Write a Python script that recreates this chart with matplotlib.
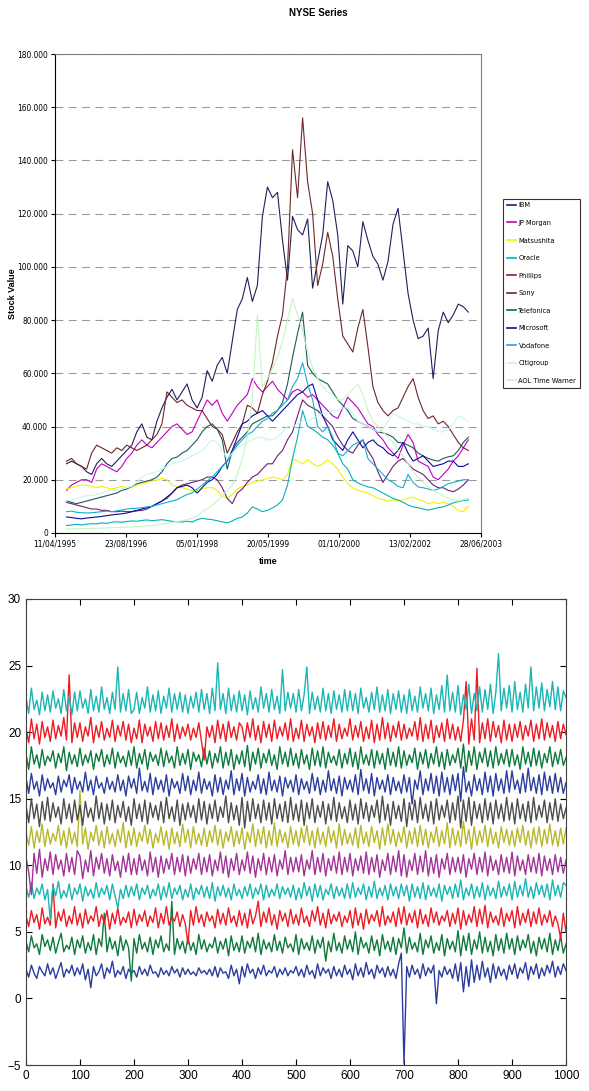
import matplotlib
matplotlib.use('Agg')
import matplotlib.pyplot as plt
import pandas as pd
import numpy as np
from matplotlib.ticker import FuncFormatter
from matplotlib.lines import Line2D
from matplotlib import font_manager
from matplotlib.font_manager import FontProperties

plt.rcParams['font.family'] = ['Liberation Sans', 'DejaVu Sans']

_cond = [f for f in font_manager.fontManager.ttflist
         if ('Narrow' in f.name or f.stretch in ('condensed', 'semi-condensed'))
         and f.style == 'normal' and f.weight in (400, 'normal', 'regular')]
if _cond:
    def nfont(size):
        return FontProperties(fname=_cond[0].fname, size=size)
    LEG_SIZE = 5.3
else:
    def nfont(size):
        return FontProperties(family='Liberation Sans', size=size)
    LEG_SIZE = 4.8

# ---------------- top chart data (NYSE Series) ----------------
dates = pd.date_range('1995-07-01', '2003-03-31', periods=81)
xtick_labels = ['11/04/1995', '23/08/1996', '05/01/1998', '20/05/1999',
                '01/10/2000', '13/02/2002', '28/06/2003']

ibm = [26, 27, 26, 25, 23, 22, 26, 28, 26, 25, 27, 29, 31, 33, 38, 41, 36, 35, 42, 47,
       51, 54, 50, 53, 56, 50, 47, 51, 61, 57, 63, 66, 60, 72, 84, 88, 96, 87, 93, 119,
       130, 126, 128, 110, 95, 119, 114, 112, 118, 92, 102, 112, 132, 125, 112, 86, 108, 106, 100, 117,
       110, 104, 101, 95, 102, 116, 122, 106, 90, 80, 73, 74, 77, 58, 76, 83, 79, 82, 86, 85, 83]
jpmorgan = [16, 18, 19, 20, 20, 19, 24, 26, 25, 24, 23, 25, 28, 30, 33, 35, 33, 32, 34, 36,
            38, 40, 41, 39, 37, 38, 42, 46, 50, 48, 50, 45, 42, 45, 48, 50, 52, 58, 55, 53,
            55, 57, 54, 52, 50, 53, 54, 53, 51, 52, 50, 48, 46, 44, 43, 47, 51, 49, 47, 44,
            41, 40, 37, 35, 32, 30, 28, 33, 37, 34, 27, 26, 25, 21, 20, 22, 24, 27, 29, 32, 35]
matsushita = [16.5, 17, 17.5, 18, 18, 17.5, 17, 17.5, 17, 16.5, 17, 17.5, 17, 17, 18, 18.5, 19, 19.5, 20, 20.5,
              20, 18, 17.5, 17, 16.5, 16, 16, 16.5, 17, 17, 16, 14, 13, 14.5, 16.5, 17.5, 18, 19, 19.5, 20,
              20.5, 21, 20.5, 20, 22, 28, 27, 26, 27.5, 26, 25, 26, 27.5, 26, 24, 21, 18.5, 17, 16, 15.5,
              15, 14, 13, 12.5, 12, 12.5, 12, 12.5, 13, 13.5, 12.5, 12, 11, 11.5, 11, 11.5, 11, 10, 8.5, 8, 10]
oracle = [2.8, 3, 3.2, 3, 3.3, 3.5, 3.4, 3.8, 3.6, 4, 4.2, 4, 4.3, 4.5, 4.4, 4.7, 4.9, 4.6, 4.8, 5,
          4.7, 4.4, 4.2, 4.1, 4.4, 4.1, 5, 5.5, 5.2, 5, 4.6, 4.2, 3.8, 4.5, 5.5, 6, 7.5, 9.8, 9, 8,
          8.5, 9.4, 10.5, 12.4, 18, 28, 36, 46, 40, 39, 37.6, 36, 35, 33, 30, 26, 24, 20, 18.8, 18,
          17.3, 17, 16, 15, 14, 13, 12.4, 11.5, 10.5, 9.8, 9.5, 9, 8.6, 9, 9.5, 9.8, 10.5, 11.3, 11.8, 12.2, 12.4]
phillips = [11.5, 11, 10.5, 10, 9.5, 9, 9, 8.5, 8.5, 8, 8, 8.2, 8, 8, 8.3, 8.5, 9, 10, 11, 12,
            13, 15, 17, 18, 18.5, 19, 19.5, 20, 21, 21, 20, 17, 13, 11, 15, 16.5, 19, 21, 22, 24,
            26, 26, 29, 31, 35, 38, 44, 50, 48, 47, 46, 44, 42, 40, 36, 33, 31, 30, 33, 35,
            31, 28, 23, 19, 22, 25, 27, 28, 26, 24, 23, 22, 20, 18, 17, 17, 16, 15.5, 16.5, 18, 20]
sony = [27, 28, 26, 25, 24, 30, 33, 32, 31, 30, 32, 31, 33, 32, 31, 32, 33, 35, 37, 41,
        53, 51, 49, 50, 48, 47, 46, 46, 43, 40, 39, 37, 30, 34, 38, 41, 48, 47, 45, 52,
        57, 64, 74, 82, 100, 144, 126, 156, 132, 120, 93, 101, 113, 104, 88, 74, 71, 68, 77, 84,
        70, 55, 49, 46, 44, 46, 47, 51, 55, 58, 51, 46, 43, 44, 41, 42, 40, 37, 34, 32, 31]
telefonica = [12, 11.5, 11, 11.5, 12, 12.5, 13, 13.5, 14, 14.5, 15, 16, 16.5, 17.5, 18.5, 19, 19.5, 20, 21, 23,
              26, 28, 28.5, 30, 31, 33, 35, 38, 40, 41, 39, 35, 24, 31, 34, 36, 38, 41, 42, 43,
              44, 44, 46, 49, 56, 66, 75, 83, 63, 60, 58, 57, 56, 53, 50, 48, 46, 43, 42, 41,
              40, 39, 38, 37.6, 37, 36, 34, 33.8, 33, 32, 30, 29, 28, 27.4, 27, 28, 28.6, 29, 31, 34, 36]
microsoft = [6, 5.8, 5.5, 5.3, 5.6, 5.8, 6, 6.2, 6.5, 6.8, 7, 7.2, 7.5, 8, 8.5, 9, 9.5, 10, 11, 12,
             13.5, 15, 17, 17.5, 18, 17, 15, 17, 19, 20, 22, 25, 27, 31, 36, 41, 42, 44, 45, 46,
             44, 42, 44, 46, 48, 50, 52, 53, 55, 56, 50, 44, 40, 35, 33, 31, 35, 38, 35, 32,
             34, 35, 33, 32, 30, 29, 31, 34, 30, 27, 28, 29, 27, 25, 25.5, 26, 27, 27, 25, 25, 26]
vodafone = [8, 8.2, 7.8, 7.6, 7.5, 7.6, 7.8, 8, 8.2, 8, 8.3, 8.6, 9, 9.2, 9.3, 9.5, 9.8, 10, 10.5, 11,
            11.5, 12, 12.5, 13.5, 14.5, 15, 16.5, 18, 19.5, 21, 23, 25, 27, 30, 33, 35, 37, 38, 40, 42,
            43, 45, 46, 48, 50, 55, 58, 64, 56, 50, 40, 38, 40, 36, 30, 29, 31, 33, 34, 35,
            28, 26, 24, 22, 20, 19, 17.5, 17, 22, 19, 17.3, 17, 16.5, 16, 16.5, 17.5, 18.5, 19, 19.5, 20, 20]
citigroup = [12, 12.5, 13, 13.5, 14, 14, 14.5, 15, 15.5, 16, 16, 16.5, 17, 17.5, 19, 21, 22, 22.5, 23, 24,
             25, 26, 26.5, 27, 28, 29, 30, 31, 33, 35, 34, 31, 28, 30, 32, 33, 34, 35, 36, 36,
             35, 35, 36, 38, 40, 40, 41, 42, 42, 43, 44, 45, 45, 46, 46, 47, 47, 45, 42, 41,
             40, 39, 38, 39, 42, 45, 44, 43, 42, 41, 41, 40, 40, 39, 38, 38, 39, 41, 44, 43, 42]
aol = [1.5, 1.5, 1.6, 1.6, 1.7, 1.7, 1.8, 1.8, 1.9, 2, 2, 2.1, 2.2, 2.3, 2.4, 2.5, 2.6, 2.8, 3, 3.3,
       3.6, 4, 4.3, 4.6, 5, 5.5, 6.5, 8, 9, 10.5, 12, 14, 16, 18, 22, 28, 36, 50, 82, 55,
       58, 62, 66, 72, 80, 88, 82, 76, 68, 62, 58, 55, 53, 52, 50, 50, 52, 54, 56, 52,
       46, 42, 40, 38, 36, 34, 31, 29, 26, 23, 21, 19, 17.5, 16, 15, 14, 13, 12.5, 12, 12.5, 13]

series_names = ['IBM', 'JP Morgan', 'Matsushita', 'Oracle', 'Phillips', 'Sony',
                'Telefonica', 'Microsoft', 'Vodafone', 'Citigroup', 'AOL Time Warner']
series_vals = [ibm, jpmorgan, matsushita, oracle, phillips, sony,
               telefonica, microsoft, vodafone, citigroup, aol]
series_colors = ['#20205a', '#c000c0', '#f2f200', '#00b4b4', '#702070', '#6e2626',
                 '#1a5c5c', '#0a0aa0', '#10b0d0', '#c4f6f6', '#c6f4c6']

# ---------------- bottom chart data ----------------
t = np.arange(0, 1001, 5)
b2 = [2.2, 1.6, 2.5, 1.9, 1.5, 2.4, 2.0, 1.7, 2.6, 1.8, 2.3, 1.5, 2.1, 2.7, 1.6, 2.2, 1.9, 2.5, 1.7, 2.3,
      1.8, 2.6, 1.4, 2.2, 0.8, 2.4, 1.7, 2.0, 2.6, 1.5, 2.3, 1.9, 2.8, 1.6, 2.1, 1.8, 2.4, 1.5, 2.2, 1.9,
      2.1, 1.6, 2.4, 1.8, 2.2, 1.7, 2.5, 1.9, 2.0, 1.6, 2.3, 1.8, 2.1, 1.7, 2.4, 1.9, 2.2, 1.6, 2.3, 1.8,
      2.2, 1.8, 2.0, 1.7, 2.3, 1.9, 2.1, 1.8, 2.2, 1.7, 2.4, 1.6, 2.3, 1.9, 2.0, 1.5, 2.5, 1.7, 2.2, 1.1,
      2.4, 1.6, 2.6, 1.9, 2.2, 1.5, 2.3, 1.8, 2.5, 1.7, 2.1, 1.9, 2.4, 1.6, 2.2, 1.8, 2.3, 1.7, 2.1, 1.9,
      2.4, 1.7, 2.2, 1.6, 2.5, 1.8, 2.1, 1.5, 2.6, 1.7, 2.3, 1.9, 2.2, 1.5, 2.4, 1.7, 2.2, 1.6, 2.5, 1.8,
      2.2, 1.4, 2.6, 1.7, 2.3, 1.6, 2.7, 1.8, 2.2, 1.5, 2.5, 1.9, 2.3, 1.6, 2.4, 1.7, 2.2, 1.5, 2.6, 3.4,
      -4.9, 2.4, 1.6, 2.5, 1.8, 2.2, 1.5, 2.6, 1.7, 2.3, 1.9, 2.5, -0.4, 2.1, 1.6, 2.4, 1.8, 2.2, 1.5, 2.6,
      1.3, 2.7, 0.5, 2.4, 0.9, 2.9, 1.2, 2.5, 1.4, 2.8, 1.6, 2.3, 1.2, 2.6, 1.5, 2.4, 1.7, 2.2, 1.4, 2.5,
      1.8, 2.6, 1.5, 2.3, 1.9, 2.7, 1.4, 2.4, 1.8, 2.6, 1.5, 2.3, 1.7, 2.5, 1.9, 2.8, 1.6, 2.4, 1.8, 2.6,
      2.1]
g4 = [4.3, 3.5, 4.7, 3.8, 4.1, 3.3, 4.8, 3.9, 4.4, 3.6, 4.6, 3.4, 4.2, 4.9, 3.5, 4.0, 3.7, 4.6, 3.3, 4.4,
      3.8, 4.7, 3.4, 4.2, 3.6, 4.8, 3.3, 4.5, 3.9, 6.4, 3.5, 4.6, 3.7, 4.3, 3.2, 4.7, 3.6, 4.4, 3.8, 1.3,
      4.5, 3.4, 4.8, 3.7, 4.2, 3.5, 4.6, 3.3, 4.4, 3.8, 4.7, 3.5, 4.1, 3.6, 7.3, 3.3, 4.5, 3.7, 4.3, 3.4,
      4.6, 3.6, 4.2, 3.3, 4.8, 3.7, 4.4, 3.5, 4.1, 3.8, 4.6, 3.4, 4.3, 3.7, 4.5, 3.2, 4.7, 3.6, 4.2, 3.5,
      4.7, 3.4, 4.3, 3.8, 4.6, 3.5, 4.9, 3.3, 4.4, 3.7, 4.2, 3.5, 4.8, 3.6, 4.3, 3.4, 4.6, 3.8, 4.1, 3.5,
      4.8, 3.3, 4.5, 3.7, 4.2, 3.6, 4.7, 3.4, 4.4, 3.8, 4.6, 2.8, 4.3, 3.5, 4.9, 3.6, 4.2, 3.4, 4.7, 3.7,
      4.4, 3.5, 5.0, 3.3, 4.6, 3.8, 4.2, 3.4, 4.7, 3.6, 4.4, 3.2, 4.8, 3.7, 4.3, 3.5, 4.6, 3.3, 4.5, 3.8,
      5.3, 3.4, 4.6, 3.7, 4.2, 3.5, 4.9, 3.3, 4.4, 3.8, 4.7, 3.4, 4.2, 3.6, 4.8, 3.2, 4.5, 3.7, 4.3, 3.5,
      5.1, 3.2, 4.7, 3.6, 4.9, 3.3, 4.4, 3.7, 5.0, 3.4, 4.6, 3.5, 4.3, 3.2, 4.8, 3.6, 4.5, 3.4, 4.9, 3.7,
      4.5, 3.3, 4.7, 3.6, 4.4, 3.8, 4.8, 3.4, 4.3, 3.2, 4.6, 3.7, 4.5, 3.5, 4.9, 3.3, 4.4, 3.6, 4.7, 3.4,
      4.1]
r6 = [6.2, 5.4, 6.6, 5.7, 6.3, 5.2, 6.8, 5.6, 6.1, 5.5, 8.6, 5.3, 6.5, 5.8, 6.7, 5.4, 6.2, 5.6, 6.9, 5.5,
      6.4, 5.3, 6.7, 5.6, 6.2, 5.8, 6.9, 5.4, 6.3, 5.7, 6.6, 5.2, 6.4, 5.6, 6.8, 5.5, 6.1, 5.7, 6.5, 5.3,
      6.7, 5.5, 6.3, 5.8, 6.6, 5.4, 6.2, 5.7, 6.8, 5.3, 6.4, 5.6, 6.9, 5.5, 6.1, 5.8, 6.5, 5.4, 6.3, 5.6,
      4.1, 6.6, 5.5, 6.9, 5.7, 6.3, 5.4, 6.5, 5.8, 6.2, 5.3, 6.7, 5.6, 6.4, 5.5, 6.8, 5.7, 6.2, 5.4, 6.6,
      5.5, 6.4, 5.3, 6.7, 5.6, 6.2, 7.3, 5.4, 6.5, 5.7, 6.8, 5.5, 6.3, 5.2, 6.6, 5.8, 6.4, 5.4, 6.7, 5.6,
      6.3, 5.5, 6.8, 5.7, 6.2, 5.4, 6.6, 5.8, 6.9, 5.5, 6.4, 5.3, 6.7, 5.6, 6.3, 5.8, 6.5, 5.4, 6.2, 5.7,
      6.6, 5.3, 6.8, 5.5, 6.4, 5.2, 6.7, 5.6, 6.3, 5.8, 6.6, 5.4, 6.9, 5.5, 6.2, 5.7, 6.5, 5.4, 6.8, 5.6,
      6.9, 5.5, 6.4, 5.7, 6.6, 5.3, 6.7, 5.6, 6.3, 5.4, 6.8, 5.7, 6.5, 5.5, 6.2, 5.8, 6.6, 5.4, 6.4, 5.6,
      6.8, 5.2, 6.6, 5.5, 6.3, 5.7, 6.9, 5.4, 6.7, 5.6, 7.0, 5.3, 6.5, 5.7, 6.2, 5.5, 6.8, 5.4, 6.4, 5.8,
      6.6, 5.3, 6.9, 5.5, 6.4, 5.7, 6.7, 5.4, 6.5, 5.6, 6.8, 5.5, 6.3, 5.7, 6.6, 5.4, 6.2, 5.6, 4.5, 6.4,
      5.0]
c8 = [8.4, 7.6, 8.7, 7.5, 8.3, 7.8, 8.6, 7.4, 8.2, 5.9, 8.5, 7.7, 8.8, 7.5, 8.1, 7.6, 8.6, 7.4, 8.3, 7.8,
      8.6, 7.3, 8.4, 7.7, 8.2, 7.5, 8.7, 7.6, 8.3, 7.8, 8.5, 7.4, 8.6, 7.7, 6.8, 8.2, 7.5, 8.5, 7.6, 8.4,
      7.7, 8.6, 7.4, 8.3, 7.8, 8.5, 7.5, 8.2, 7.7, 8.6, 7.4, 8.4, 7.6, 8.7, 7.5, 8.3, 7.8, 8.5, 7.4, 8.2,
      7.6, 8.6, 7.4, 8.3, 7.8, 8.5, 7.6, 8.4, 7.5, 8.7, 7.3, 8.4, 7.7, 8.5, 7.6, 8.3, 7.4, 8.6, 7.7, 8.2,
      7.5, 8.4, 7.7, 8.6, 7.5, 8.3, 7.8, 8.6, 7.4, 8.5, 7.6, 8.2, 7.7, 8.6, 7.5, 8.4, 7.8, 8.3, 7.6, 8.5,
      7.4, 8.3, 7.5, 8.7, 7.7, 8.4, 7.3, 8.6, 7.6, 8.5, 7.4, 8.2, 7.8, 8.6, 7.5, 8.4, 7.7, 8.3, 7.5, 8.6,
      7.5, 8.7, 7.6, 8.3, 7.8, 8.6, 7.4, 8.4, 7.6, 8.8, 7.5, 8.3, 7.7, 8.5, 7.4, 8.6, 7.7, 8.4, 7.5, 8.6,
      7.7, 8.5, 7.3, 8.6, 7.6, 8.4, 7.5, 8.7, 7.4, 8.5, 7.7, 8.3, 7.6, 8.6, 7.3, 8.5, 7.8, 8.4, 7.5, 8.6,
      7.6, 8.9, 7.4, 8.3, 7.7, 8.6, 7.5, 8.4, 7.6, 8.7, 7.4, 8.5, 7.7, 8.3, 7.5, 8.8, 7.6, 8.4, 7.7, 8.6,
      7.4, 8.8, 7.6, 8.5, 7.7, 9.0, 7.6, 8.4, 7.5, 8.7, 7.8, 8.5, 7.6, 8.6, 7.4, 8.9, 7.7, 8.5, 7.6, 8.7,
      8.5]
m10 = [10.6, 9.5, 7.8, 10.9, 9.4, 11.2, 9.1, 10.5, 9.6, 11.0, 9.3, 10.8, 9.7, 10.4, 9.2, 10.9, 9.5, 10.6, 9.3, 11.1,
       10.7, 9.0, 10.4, 9.5, 11.1, 9.2, 10.6, 9.7, 10.9, 9.4, 10.5, 9.2, 10.8, 9.6, 10.3, 9.1, 10.7, 9.5, 10.9, 9.3,
       10.5, 9.3, 10.8, 9.6, 10.4, 9.2, 11.0, 9.5, 10.6, 9.1, 10.7, 9.4, 10.5, 9.7, 10.9, 9.3, 10.6, 9.5, 10.8, 9.2,
       10.7, 9.4, 10.5, 9.7, 10.9, 9.3, 10.6, 9.5, 10.8, 9.2, 10.4, 9.6, 11.0, 9.4, 10.7, 9.1, 10.5, 9.6, 10.9, 9.3,
       10.4, 9.6, 11.0, 9.4, 10.7, 9.1, 10.5, 9.6, 10.9, 9.3, 10.6, 9.5, 10.8, 9.2, 10.4, 9.7, 11.1, 9.3, 10.6, 9.5,
       10.6, 9.5, 10.8, 9.2, 10.4, 9.7, 11.1, 9.3, 10.6, 9.5, 10.9, 9.2, 10.5, 9.6, 10.7, 9.4, 11.0, 9.3, 10.6, 9.5,
       10.9, 9.2, 10.5, 9.6, 10.7, 9.4, 11.0, 9.3, 10.6, 9.5, 10.8, 9.1, 10.4, 9.6, 10.9, 9.3, 10.7, 9.5, 11.1, 9.2,
       10.8, 9.1, 10.4, 9.6, 10.9, 9.3, 10.7, 9.5, 11.1, 9.2, 10.6, 9.4, 10.8, 9.1, 10.5, 9.7, 10.9, 9.3, 10.6, 9.5,
       10.6, 9.4, 10.8, 9.1, 10.5, 9.7, 10.9, 9.3, 10.6, 9.5, 11.0, 9.2, 10.7, 9.6, 10.4, 9.3, 10.8, 9.5, 10.6, 9.4,
       11.0, 9.2, 10.7, 9.6, 10.4, 9.3, 10.8, 9.5, 10.6, 9.4, 10.9, 9.2, 10.7, 9.6, 10.5, 9.3, 10.8, 9.5, 10.6, 9.4,
       10.4]
y12 = [12.5, 11.5, 12.9, 11.3, 12.6, 11.7, 13.1, 11.4, 12.7, 11.6, 12.4, 11.8, 13.0, 11.5, 12.6, 11.3, 12.8, 11.6, 12.5, 11.4,
       15.6, 11.6, 12.8, 11.2, 12.5, 11.8, 13.0, 11.5, 12.6, 11.3, 12.9, 11.6, 12.4, 11.4, 12.7, 11.7, 13.2, 11.3, 12.6, 11.5,
       12.8, 11.4, 12.5, 11.8, 13.0, 11.6, 12.7, 11.3, 12.4, 11.7, 12.9, 11.5, 12.6, 11.2, 12.8, 11.6, 12.5, 11.4, 13.1, 11.7,
       12.7, 11.3, 12.9, 11.6, 12.4, 11.5, 12.8, 11.4, 12.6, 11.7, 13.0, 11.5, 12.7, 11.3, 12.5, 11.8, 12.9, 11.4, 12.6, 11.6,
       12.8, 11.2, 12.5, 11.7, 13.1, 11.4, 12.7, 11.6, 12.9, 11.3, 12.6, 11.5, 13.2, 11.4, 12.7, 11.7, 12.5, 11.3, 12.9, 11.6,
       12.6, 11.4, 12.8, 11.7, 13.0, 11.5, 12.6, 11.3, 12.8, 11.6, 12.5, 11.4, 12.9, 11.7, 12.6, 11.3, 13.1, 11.5, 12.7, 11.6,
       12.4, 11.5, 12.8, 11.3, 13.0, 11.6, 12.5, 11.4, 12.9, 11.7, 12.6, 11.2, 12.8, 11.5, 13.1, 11.6, 12.7, 11.4, 12.5, 11.7,
       12.9, 11.3, 12.6, 11.6, 12.8, 11.4, 13.0, 11.5, 12.7, 11.3, 12.5, 11.7, 12.9, 11.4, 12.6, 11.6, 13.2, 11.3, 12.8, 11.5,
       12.6, 11.4, 13.3, 11.6, 12.7, 11.2, 12.9, 11.5, 12.6, 11.7, 13.0, 11.4, 12.8, 11.6, 12.5, 11.3, 12.9, 11.7, 12.7, 11.5,
       12.6, 11.4, 12.8, 11.7, 13.0, 11.5, 12.6, 11.3, 12.8, 11.6, 12.9, 11.4, 12.7, 11.6, 13.1, 11.5, 12.6, 11.4, 12.8, 11.6,
       12.8]
k14 = [14.5, 13.2, 15.0, 13.5, 14.6, 12.9, 14.8, 13.4, 15.1, 13.3, 14.7, 13.6, 14.4, 13.1, 15.0, 13.5, 14.6, 13.2, 14.9, 13.4,
       14.5, 13.0, 14.8, 13.6, 14.3, 13.3, 15.2, 13.5, 14.7, 13.1, 14.6, 13.4, 14.9, 13.2, 14.5, 13.6, 14.8, 13.3, 14.4, 13.0,
       15.0, 13.5, 14.6, 13.3, 14.9, 13.1, 14.7, 13.6, 14.5, 13.4, 14.8, 13.2, 15.1, 13.5, 14.4, 13.3, 14.9, 13.0, 14.6, 13.4,
       14.7, 13.6, 14.5, 13.2, 15.0, 13.4, 14.8, 13.1, 14.6, 13.5, 14.9, 13.3, 14.4, 13.6, 15.2, 13.2, 14.7, 13.4, 14.5, 13.0,
       15.1, 12.8, 14.8, 13.3, 15.0, 13.5, 14.6, 13.2, 14.9, 13.4, 14.7, 13.1, 15.0, 13.5, 14.6, 13.3, 14.8, 13.2, 15.1, 13.4,
       14.6, 13.3, 14.9, 13.0, 14.7, 13.5, 15.0, 13.2, 14.5, 13.6, 14.8, 13.1, 14.6, 13.4, 15.1, 13.3, 14.7, 13.5, 14.4, 13.2,
       14.9, 13.4, 14.6, 13.1, 15.0, 13.5, 14.7, 13.3, 14.5, 13.6, 14.9, 13.2, 15.2, 13.4, 14.6, 13.0, 14.8, 13.5, 14.5, 13.3,
       15.0, 12.9, 14.7, 13.4, 14.9, 13.2, 15.1, 13.5, 14.6, 13.3, 14.8, 13.1, 15.0, 13.4, 14.5, 13.6, 14.9, 13.2, 14.7, 13.4,
       15.2, 12.8, 14.9, 13.3, 15.1, 13.0, 14.8, 13.5, 14.6, 13.2, 15.0, 13.4, 14.7, 13.1, 14.9, 13.5, 14.6, 13.3, 15.1, 13.4,
       14.7, 13.1, 15.0, 13.5, 14.6, 13.3, 14.8, 13.2, 15.1, 13.4, 14.5, 13.6, 14.9, 13.2, 14.7, 13.4, 15.0, 13.3, 14.6, 13.5,
       14.3]
b16 = [16.6, 15.4, 16.9, 15.7, 16.3, 15.2, 16.8, 15.6, 16.5, 15.8, 16.2, 15.3, 16.7, 15.5, 16.4, 15.9, 16.8, 15.4, 16.6, 15.7,
       16.3, 15.5, 17.0, 15.6, 16.4, 15.3, 16.7, 15.8, 16.2, 15.4, 16.6, 15.7, 16.3, 15.5, 16.8, 15.6, 16.4, 15.2, 16.7, 15.8,
       16.5, 15.4, 17.3, 15.6, 16.3, 15.5, 16.9, 15.3, 16.6, 15.7, 16.4, 15.5, 16.8, 15.2, 16.5, 15.8, 16.3, 15.4, 16.9, 15.6,
       16.7, 15.3, 16.4, 15.6, 17.0, 15.4, 16.5, 15.7, 16.3, 15.2, 16.8, 15.5, 16.6, 15.3, 16.4, 15.7, 17.1, 15.3, 16.5, 15.6,
       16.9, 15.2, 16.6, 15.5, 16.3, 15.7, 16.8, 15.4, 16.5, 15.3, 17.0, 15.6, 16.4, 15.5, 16.7, 15.2, 16.6, 15.8, 16.4, 15.5,
       16.8, 15.3, 16.5, 15.7, 16.3, 15.4, 16.9, 15.6, 16.6, 15.3, 16.4, 15.5, 17.1, 15.6, 16.5, 15.4, 16.7, 15.2, 16.6, 15.7,
       16.4, 15.5, 16.8, 15.3, 17.2, 15.6, 16.5, 15.4, 16.9, 15.2, 16.6, 15.7, 16.4, 15.5, 16.8, 15.3, 16.6, 15.6, 16.3, 15.4,
       16.8, 15.5, 16.6, 14.6, 16.4, 15.7, 17.1, 15.3, 16.5, 15.6, 16.9, 15.4, 16.7, 15.2, 17.0, 15.5, 16.6, 15.3, 16.8, 15.6,
       16.9, 14.8, 17.4, 15.5, 16.3, 15.2, 16.8, 15.6, 16.5, 15.3, 17.0, 15.5, 16.7, 15.2, 16.9, 15.6, 16.5, 15.4, 17.1, 15.5,
       17.1, 15.7, 16.4, 15.4, 16.9, 15.5, 17.3, 15.6, 16.6, 15.4, 16.8, 15.3, 17.0, 15.6, 16.7, 15.4, 16.9, 15.5, 16.6, 15.4,
       16.2]
g18 = [18.4, 17.2, 18.9, 17.6, 18.3, 17.3, 18.7, 17.5, 18.2, 17.8, 18.6, 17.3, 18.4, 17.7, 18.9, 17.1, 18.5, 17.6, 18.3, 17.4,
       18.8, 17.5, 18.3, 17.7, 18.6, 17.2, 18.4, 17.8, 18.7, 17.4, 18.3, 17.6, 18.8, 17.3, 18.5, 17.7, 18.2, 17.4, 18.6, 17.5,
       18.9, 17.3, 18.4, 17.6, 18.7, 17.2, 18.5, 17.8, 18.3, 17.5, 18.8, 17.4, 18.6, 17.7, 18.2, 17.3, 18.9, 17.5, 18.4, 17.6,
       18.7, 17.2, 18.5, 17.8, 18.3, 17.4, 18.8, 17.6, 18.6, 17.3, 18.4, 17.7, 18.9, 17.3, 18.5, 17.5, 18.7, 17.2, 18.3, 17.6,
       18.6, 17.4, 19.0, 17.1, 18.5, 17.6, 18.8, 17.3, 18.4, 17.7, 18.7, 17.5, 18.3, 17.2, 18.9, 17.6, 18.5, 17.4, 18.8, 17.5,
       18.4, 17.3, 18.7, 17.6, 18.3, 17.2, 18.8, 17.5, 18.6, 17.4, 18.9, 17.3, 18.5, 17.7, 18.2, 17.5, 18.7, 17.3, 18.4, 17.6,
       18.8, 17.4, 18.5, 17.2, 18.9, 17.6, 18.3, 17.5, 18.7, 17.3, 18.6, 17.6, 18.4, 17.2, 18.8, 17.5, 18.5, 17.4, 18.9, 17.3,
       18.6, 17.5, 18.3, 17.7, 18.8, 17.2, 18.5, 17.6, 18.7, 17.3, 18.4, 17.6, 18.9, 17.4, 18.5, 17.2, 18.7, 17.5, 18.3, 17.7,
       18.8, 17.3, 19.1, 17.0, 18.6, 17.5, 18.9, 17.2, 18.5, 17.7, 18.8, 17.4, 18.6, 17.3, 18.9, 17.5, 18.4, 17.6, 18.7, 17.4,
       18.7, 17.5, 18.3, 17.2, 18.9, 17.6, 18.5, 17.4, 18.8, 17.5, 18.6, 17.3, 18.4, 17.7, 18.9, 17.4, 18.5, 17.6, 18.7, 17.5,
       18.1]
r20 = [20.3, 19.2, 21.0, 19.5, 20.6, 19.1, 20.8, 19.6, 20.4, 19.3, 20.9, 19.5, 20.5, 19.7, 21.1, 19.4, 24.3, 19.2, 20.7, 19.6,
       20.7, 19.3, 20.4, 19.7, 21.1, 19.2, 20.5, 19.6, 20.8, 19.4, 20.3, 19.6, 20.9, 19.3, 20.5, 19.7, 20.8, 19.4, 20.6, 19.2,
       20.3, 19.5, 20.9, 19.2, 20.6, 19.7, 20.4, 19.3, 20.8, 19.5, 20.7, 19.4, 20.5, 19.6, 21.0, 19.3, 20.6, 19.5, 20.4, 19.7,
       20.6, 19.4, 20.3, 19.6, 20.7, 19.3, 17.9, 20.4, 19.6, 20.5, 19.2, 20.9, 19.5, 20.6, 19.3, 20.8, 19.6, 20.4, 19.4, 20.7,
       20.4, 19.3, 20.7, 19.6, 21.0, 19.4, 20.5, 19.2, 20.8, 19.6, 20.6, 19.3, 20.9, 19.5, 20.4, 19.7, 20.7, 19.4, 21.0, 19.3,
       20.3, 19.5, 20.9, 19.3, 20.6, 19.7, 20.4, 19.2, 20.7, 19.5, 20.8, 19.4, 20.5, 19.6, 21.0, 19.3, 20.6, 19.5, 20.3, 19.7,
       21.0, 19.4, 20.5, 19.6, 20.8, 19.3, 20.4, 19.5, 20.9, 19.2, 20.6, 19.4, 21.1, 19.5, 20.7, 19.3, 20.5, 19.6, 20.8, 19.4,
       20.6, 19.5, 20.3, 19.7, 20.8, 19.4, 21.1, 19.3, 20.6, 19.5, 20.9, 19.2, 20.5, 19.6, 20.7, 19.3, 21.0, 19.5, 20.6, 19.4,
       20.4, 19.3, 20.9, 23.8, 19.1, 21.0, 19.4, 24.8, 19.2, 20.7, 19.5, 21.0, 19.3, 20.8, 19.6, 20.5, 19.2, 20.9, 19.4, 20.6,
       19.3, 20.6, 19.6, 20.8, 19.4, 20.5, 19.7, 20.9, 19.3, 20.6, 19.5, 21.0, 19.4, 20.7, 19.6, 20.5, 19.3, 20.8, 19.5, 20.6,
       19.8]
c22 = [22.6, 21.4, 23.3, 21.7, 22.4, 21.3, 23.0, 21.6, 22.8, 21.5, 23.1, 21.8, 22.5, 21.4, 23.2, 21.6, 22.7, 21.3, 23.0, 21.6,
       23.1, 21.8, 22.5, 21.4, 23.2, 21.6, 22.7, 21.5, 23.4, 21.7, 22.6, 21.4, 23.0, 21.7, 24.9, 21.5, 22.9, 21.6, 23.2, 21.4,
       21.7, 23.0, 21.4, 22.6, 21.8, 23.4, 21.5, 22.8, 21.6, 23.1, 21.4, 22.7, 21.8, 23.3, 21.5, 22.9, 21.7, 23.0, 21.5, 22.8,
       21.4, 22.7, 21.8, 23.0, 21.5, 23.2, 21.7, 22.9, 21.4, 23.3, 21.6, 25.2, 21.7, 22.9, 21.4, 23.3, 21.6, 22.8, 21.5, 23.1,
       21.6, 22.8, 21.3, 23.1, 21.7, 22.6, 21.5, 23.4, 21.8, 22.9, 21.5, 23.2, 21.7, 22.7, 21.4, 24.7, 21.6, 23.0, 21.8, 22.9,
       21.5, 23.2, 21.6, 22.8, 24.9, 21.4, 23.0, 21.7, 22.7, 21.5, 23.3, 21.6, 22.9, 21.4, 23.1, 21.7, 22.8, 21.5, 23.2, 21.6,
       23.1, 21.6, 22.9, 21.4, 23.3, 21.8, 22.6, 21.5, 23.0, 21.7, 23.4, 21.5, 22.8, 21.6, 23.2, 21.4, 22.9, 21.7, 23.1, 21.5,
       22.8, 21.4, 23.2, 21.6, 22.7, 21.5, 23.4, 21.8, 22.9, 21.6, 23.3, 21.4, 22.8, 21.7, 23.5, 21.5, 24.3, 21.6, 23.0, 21.5,
       23.5, 21.3, 22.8, 21.7, 23.6, 21.4, 22.9, 21.6, 23.4, 21.5, 23.2, 21.7, 23.6, 21.4, 23.0, 25.9, 21.6, 23.3, 21.8, 23.5,
       21.5, 23.8, 21.7, 23.0, 21.5, 23.6, 21.8, 24.9, 21.6, 23.4, 21.8, 23.7, 21.6, 23.2, 21.9, 23.8, 21.7, 23.4, 21.6, 23.1,
       22.6]
bottom_series = [b2, g4, r6, c8, m10, y12, k14, b16, g18, r20, c22]
bottom_colors = ['#2b3e9e', '#0d7a3c', '#ec1c24', '#1bb5b5', '#a2339a', '#b8b82e',
                 '#4d4d4d', '#2b3e9e', '#0d7a3c', '#ec1c24', '#1bb5b5']

# ---------------- figure ----------------
fig = plt.figure(figsize=(5.89, 10.91), dpi=100)

ax1 = fig.add_axes([0.0934, 0.5115, 0.7232, 0.439])
for name, vals, col in zip(series_names, series_vals, series_colors):
    ax1.plot(dates, vals, color=col, lw=0.8, label=name)

xt = [pd.Timestamp(pd.to_datetime(s, dayfirst=True)) for s in xtick_labels]
ax1.set_xlim(xt[0], xt[-1])
ax1.set_ylim(0, 180)
ax1.set_xticks(xt)
ax1.set_xticklabels(xtick_labels)
ax1.set_yticks(np.arange(0, 181, 20))
ax1.yaxis.set_major_formatter(FuncFormatter(lambda v, p: '0' if v == 0 else '%.3f' % v))
ax1.tick_params(axis='both', direction='out', length=3, width=0.8, pad=2)
for lab in ax1.get_xticklabels() + ax1.get_yticklabels():
    lab.set_fontproperties(nfont(6))
ax1.yaxis.grid(True, linestyle=(0, (7, 5)), color='#9a9a9a', lw=0.8)
ax1.set_axisbelow(True)
for s in ['top', 'right']:
    ax1.spines[s].set_color('#808080')
    ax1.spines[s].set_linewidth(0.8)
for s in ['left', 'bottom']:
    ax1.spines[s].set_color('black')
    ax1.spines[s].set_linewidth(0.8)
ax1.set_ylabel('Stock Value', fontsize=6.5, fontweight='bold')
ax1.yaxis.set_label_coords(-0.089, 0.5)
ax1.set_xlabel('time', fontsize=6.5, fontweight='bold', labelpad=6)
fig.text(0.54, 0.988, 'NYSE Series', ha='center', va='center', fontsize=7, fontweight='bold')

handles = [Line2D([0], [0], color=c, lw=1.2) for c in series_colors]
leg = fig.legend(handles, series_names, loc='upper left', bbox_to_anchor=(0.854, 0.818),
                 prop=nfont(LEG_SIZE), frameon=True, fancybox=False,
                 handlelength=1.3, handletextpad=0.3, labelspacing=1.55, borderpad=0.5,
                 borderaxespad=0)
leg.get_frame().set_edgecolor('black')
leg.get_frame().set_linewidth(0.8)

ax2 = fig.add_axes([0.0441, 0.0238, 0.9169, 0.4272])
for vals, col in zip(bottom_series, bottom_colors):
    ax2.plot(t, vals, color=col, lw=1.0)
ax2.set_xlim(0, 1000)
ax2.set_ylim(-5, 30)
ax2.set_xticks(np.arange(0, 1001, 100))
ax2.set_yticks(np.arange(-5, 31, 5))
ax2.tick_params(axis='both', direction='in', length=4, labelsize=8.5, top=True, right=True, width=0.8)
for s in ax2.spines.values():
    s.set_linewidth(0.8)
    s.set_color('#404040')

fig.savefig('out.png', dpi=100)
